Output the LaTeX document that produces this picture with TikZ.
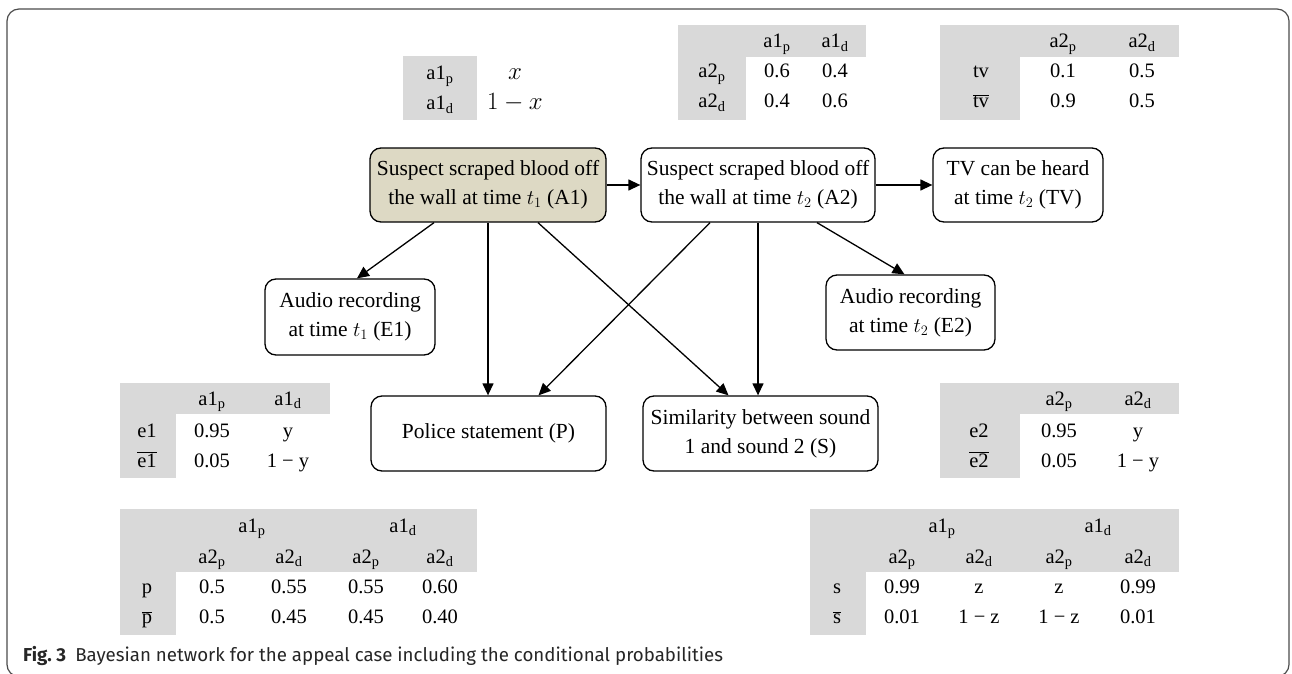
\documentclass[tikz,border=0pt]{standalone}
\usepackage{fontspec}
\setmainfont{Liberation Serif}
\newfontfamily\capfont{Fira Sans}
\usetikzlibrary{arrows.meta}
\definecolor{tanfill}{HTML}{DDD9C4}
\definecolor{cellgray}{HTML}{D9D9D9}
\newcommand\lo[1]{\textsubscript{#1}}
\newcommand\ov[1]{$\overline{\mbox{#1}}$}
\begin{document}
\begin{tikzpicture}[x=1pt,y=-1pt,
 box/.style={draw, line width=1.3pt, rounded corners=11pt, align=center, font=\fontsize{21.5}{29}\selectfont, inner sep=0pt},
 arr/.style={line width=1.3pt, -{Triangle[length=12pt,width=11pt]}},
 tx/.style={anchor=base, font=\fontsize{20.5}{24}\selectfont, inner sep=0pt}]
\useasboundingbox (0,0) rectangle (1292,674);
\draw[line width=1.2pt, color=black!70, rounded corners=12pt] (7,9) rectangle (1289,676.5);

% nodes
\node[box, fill=tanfill, minimum width=236pt, minimum height=74pt] (A1) at (488,185) {Suspect scraped blood off\\the wall at time $t_1$ (A1)};
\node[box, minimum width=234pt, minimum height=74pt] (A2) at (758,185) {Suspect scraped blood off\\the wall at time $t_2$ (A2)};
\node[box, minimum width=170pt, minimum height=74pt] (TV) at (1018,185) {TV can be heard\\at time $t_2$ (TV)};
\node[box, minimum width=170pt, minimum height=76pt] (E1) at (350,317) {Audio recording\\at time $t_1$ (E1)};
\node[box, minimum width=169pt, minimum height=75pt] (E2) at (910.5,312.5) {Audio recording\\at time $t_2$ (E2)};
\node[box, minimum width=235pt, minimum height=75pt] (P) at (488.5,433.5) {Police statement (P)};
\node[box, minimum width=235pt, minimum height=75pt] (S) at (760.5,433.5) {Similarity between sound\\1 and sound 2 (S)};

% connectors
\draw[arr] (A1) -- (A2);
\draw[arr] (A2) -- (TV);
\draw[arr] ([xshift=-54pt]A1.south) -- ([xshift=7pt]E1.north);
\draw[arr] (A1.south) -- (A1.south |- P.north);
\draw[arr] ([xshift=50pt]A1.south) -- ([xshift=-32pt]S.north);
\draw[arr] ([xshift=-48pt]A2.south) -- ([xshift=50pt]P.north);
\draw[arr] (A2.south) -- (A2.south |- S.north);
\draw[arr] ([xshift=59pt]A2.south) -- ([xshift=-6pt]E2.north);

% table T0
\fill[cellgray] (403,56) rectangle (477,120);
\node[tx] (t0a) at (440,80) {a1\lo{p}};
\node[tx] (t0b) at (440,110) {a1\lo{d}};
\node[tx, font=\fontsize{23}{26}\selectfont] (t0c) at (515,80) {$x$};
\node[tx, font=\fontsize{23}{26}\selectfont] (t0d) at (515,110) {$1-x$};

% table T1
\fill[cellgray] (678,25) rectangle (866,57);
\fill[cellgray] (678,57) rectangle (746,120);
\node[tx] (t1h1) at (777,48) {a1\lo{p}};
\node[tx] (t1h2) at (835,48) {a1\lo{d}};
\node[tx] (t1r1) at (712,78) {a2\lo{p}};
\node[tx] (t1r2) at (712,108) {a2\lo{d}};
\node[tx] (t1v11) at (777,78) {0.6};
\node[tx] (t1v12) at (835,78) {0.4};
\node[tx] (t1v21) at (777,108) {0.4};
\node[tx] (t1v22) at (835,108) {0.6};

% table T2
\fill[cellgray] (940,25) rectangle (1179,57);
\fill[cellgray] (940,57) rectangle (1020,120);
\node[tx] (t2h1) at (1063,48) {a2\lo{p}};
\node[tx] (t2h2) at (1142,48) {a2\lo{d}};
\node[tx] (t2r1) at (981,78) {tv};
\node[tx] (t2r2) at (981,108) {\ov{tv}};
\node[tx] (t2v11) at (1063,78) {0.1};
\node[tx] (t2v12) at (1142,78) {0.5};
\node[tx] (t2v21) at (1063,108) {0.9};
\node[tx] (t2v22) at (1142,108) {0.5};

% table T3
\fill[cellgray] (120,383) rectangle (330,414);
\fill[cellgray] (120,414) rectangle (176,478);
\node[tx] (t3h1) at (212,405) {a1\lo{p}};
\node[tx] (t3h2) at (288,405) {a1\lo{d}};
\node[tx] (t3r1) at (147,437) {e1};
\node[tx] (t3r2) at (147,467) {\ov{e1}};
\node[tx] (t3v11) at (212,437) {0.95};
\node[tx] (t3v12) at (288,437) {y};
\node[tx] (t3v21) at (212,467) {0.05};
\node[tx] (t3v22) at (288,467) {1 − y};

% table T4
\fill[cellgray] (120,509) rectangle (477,572);
\fill[cellgray] (120,572) rectangle (176,635);
\node[tx] (t4g1) at (252,532) {a1\lo{p}};
\node[tx] (t4g2) at (403,532) {a1\lo{d}};
\node[tx] (t4h1) at (212,563) {a2\lo{p}};
\node[tx] (t4h2) at (289,563) {a2\lo{d}};
\node[tx] (t4h3) at (366,563) {a2\lo{p}};
\node[tx] (t4h4) at (440,563) {a2\lo{d}};
\node[tx] (t4r1) at (147,593) {p};
\node[tx] (t4r2) at (147,623) {\ov{p}};
\node[tx] (t4v11) at (212,593) {0.5};
\node[tx] (t4v12) at (289,593) {0.55};
\node[tx] (t4v13) at (366,593) {0.55};
\node[tx] (t4v14) at (440,593) {0.60};
\node[tx] (t4v21) at (212,623) {0.5};
\node[tx] (t4v22) at (289,623) {0.45};
\node[tx] (t4v23) at (366,623) {0.45};
\node[tx] (t4v24) at (440,623) {0.40};

% table T5
\fill[cellgray] (940,383) rectangle (1179,414);
\fill[cellgray] (940,414) rectangle (1020,478);
\node[tx] (t5h1) at (1059,405) {a2\lo{p}};
\node[tx] (t5h2) at (1138,405) {a2\lo{d}};
\node[tx] (t5r1) at (979,437) {e2};
\node[tx] (t5r2) at (979,467) {\ov{e2}};
\node[tx] (t5v11) at (1059,437) {0.95};
\node[tx] (t5v12) at (1138,437) {y};
\node[tx] (t5v21) at (1059,467) {0.05};
\node[tx] (t5v22) at (1138,467) {1 − y};

% table T6
\fill[cellgray] (810,509) rectangle (1179,572);
\fill[cellgray] (810,572) rectangle (866,635);
\node[tx] (t6g1) at (942,532) {a1\lo{p}};
\node[tx] (t6g2) at (1098,532) {a1\lo{d}};
\node[tx] (t6h1) at (902,563) {a2\lo{p}};
\node[tx] (t6h2) at (979,563) {a2\lo{d}};
\node[tx] (t6h3) at (1059,563) {a2\lo{p}};
\node[tx] (t6h4) at (1138,563) {a2\lo{d}};
\node[tx] (t6r1) at (837,593) {s};
\node[tx] (t6r2) at (837,623) {\ov{s}};
\node[tx] (t6v11) at (902,593) {0.99};
\node[tx] (t6v12) at (979,593) {z};
\node[tx] (t6v13) at (1059,593) {z};
\node[tx] (t6v14) at (1138,593) {0.99};
\node[tx] (t6v21) at (902,623) {0.01};
\node[tx] (t6v22) at (979,623) {1 − z};
\node[tx] (t6v23) at (1059,623) {1 − z};
\node[tx] (t6v24) at (1138,623) {0.01};

% caption
\node[anchor=base west, inner sep=0pt, font=\capfont\fontsize{18.7}{22}\selectfont, text=black!85] (cap) at (23,661) {\textbf{Fig.~3}\hspace{0.5em}Bayesian network for the appeal case including the conditional probabilities};
\end{tikzpicture}
\end{document}
